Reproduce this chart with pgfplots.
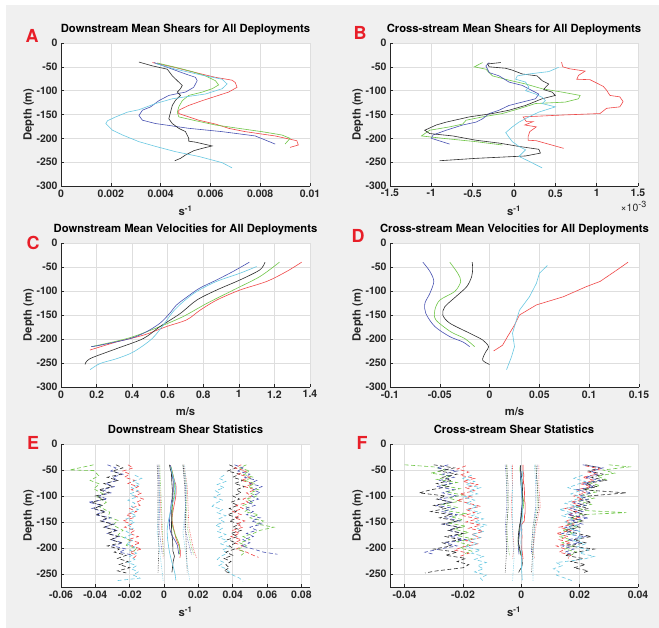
\documentclass[border=0pt]{standalone}
\usepackage{fontspec}
\setmainfont{TeX Gyre Heros}
\usepackage{pgfplots}
\pgfplotsset{compat=1.18}
\usepackage{pgfplotstable}
\definecolor{cr}{RGB}{240,72,72}
\definecolor{cg}{RGB}{112,198,72}
\definecolor{cb}{RGB}{72,82,178}
\definecolor{cc}{RGB}{104,200,226}
\definecolor{ck}{RGB}{45,45,45}
\definecolor{axc}{RGB}{38,38,38}
\definecolor{gridc}{RGB}{222,222,222}
\definecolor{bgc}{RGB}{240,240,240}
\definecolor{letc}{RGB}{232,30,40}
\newcommand\tickf{\fontsize{10.5}{12}\selectfont\bfseries}
\newcommand\titf{\fontsize{11.3}{13}\selectfont\bfseries}
\pgfplotsset{
 base/.style={scale only axis, width=249bp, height=143bp, axis lines=left,
  axis line style={-, draw=axc, line width=0.6bp},
  axis background/.style={fill=white},
  grid=major, grid style={draw=gridc, line width=0.5bp},
  major tick style={draw=axc, line width=0.5bp}, tick align=inside, major tick length=2.5bp,
  ticklabel style={font=\tickf, text=axc},
  title style={font=\titf, text=black, at={(0.5,1)}, anchor=base, yshift=5bp},
  ylabel={Depth (m)},
  ylabel style={font=\titf, text=axc, at={(axis description cs:-0.13,0.5)}, anchor=center},
  xlabel style={font=\titf, text=axc, at={(axis description cs:0.5,-0.17)}, anchor=center},
  clip mode=individual,
  every axis plot/.append style={line width=0.6bp},
  ymax=0},
 full/.style={ymin=-300, ytick={-300,-250,-200,-150,-100,-50,0},
  yticklabels={-300,-250,-200,-150,-100,-50,0}},
 stat/.style={ymin=-275, ytick={-250,-200,-150,-100,-50,0},
  yticklabels={-250,-200,-150,-100,-50,0}},
 dsh/.style={line width=0.6bp, dash pattern=on 4bp off 2.5bp},
 dtt/.style={line width=0.6bp, dash pattern=on 0.6bp off 1.1bp},
}
% Panel A data (units 1e-3 s^-1)
\pgfplotstableread{
x y
3.13 -40
3.67 -48
4.27 -55
4.47 -69
4.67 -79
4.87 -89
4.80 -96
4.67 -103
4.80 -110
4.60 -120
4.47 -131
4.40 -145
4.33 -159
4.47 -169
4.73 -179
5.00 -186
5.13 -200
5.13 -206
5.40 -208
6.07 -216
5.67 -221
5.33 -226
5.00 -235
4.80 -242
4.57 -247
}\Ak
\pgfplotstableread{
x y
3.73 -41
4.27 -51
5.00 -65
5.40 -72
5.47 -79
5.33 -93
5.00 -103
4.60 -107
4.33 -110
3.93 -121
3.60 -134
3.27 -141
3.13 -152
3.27 -162
3.80 -169
5.13 -179
6.47 -186
7.80 -195
8.60 -212
}\Ab
\pgfplotstableread{
x y
3.80 -43
4.60 -55
5.80 -69
6.47 -76
6.67 -86
6.47 -96
5.80 -107
5.13 -112
4.47 -117
3.80 -127
3.13 -140
2.67 -145
2.20 -155
1.87 -163
1.80 -169
2.07 -183
2.47 -193
3.13 -207
3.80 -217
4.60 -228
5.53 -238
6.47 -251
6.87 -262
}\Ac
\pgfplotstableread{
x y
3.87 -42
4.60 -51
5.27 -60
5.80 -69
6.20 -79
6.33 -88
6.07 -96
5.67 -103
5.13 -110
4.87 -121
4.73 -134
4.67 -145
4.73 -155
5.40 -163
6.20 -172
7.13 -179
8.07 -186
8.87 -193
9.20 -200
9.00 -212
}\Ag
\pgfplotstableread{
x y
3.67 -41
4.47 -50
5.40 -62
6.20 -72
6.87 -78
7.00 -83
7.07 -93
6.73 -103
6.20 -112
5.67 -121
5.13 -131
4.73 -141
4.73 -148
5.13 -155
5.53 -162
6.20 -170
6.73 -179
7.40 -186
8.60 -195
9.47 -205
9.53 -214
9.20 -219
}\Ar
% Panel B data (units 1e-3 s^-1)
\pgfplotstableread{
x y
0.575 -40
0.59 -50
0.67 -54
0.86 -59
0.78 -68
0.76 -76
0.92 -77
1.00 -84
1.08 -91
1.12 -99
1.16 -110
1.28 -113
1.32 -123
1.28 -134
1.12 -137
1.04 -148
0.60 -151
0.11 -155
0.15 -165
0.23 -165
0.13 -172
0.27 -176
0.19 -186
0.17 -197
0.17 -204
0.27 -205
0.60 -221
}\Br
\pgfplotstableread{
x y
-0.16 -41
-0.32 -44
-0.30 -50
-0.10 -53
-0.02 -57
0.10 -65
0.28 -69
0.34 -79
0.42 -86
0.38 -93
0.36 -98
0.46 -103
0.50 -110
0.34 -117
0.14 -131
-0.06 -141
-0.26 -148
-0.54 -155
-0.82 -166
-0.94 -172
-1.08 -183
-1.02 -190
-0.74 -195
-0.46 -204
-0.18 -210
0.06 -217
0.30 -223
0.32 -231
0.14 -237
-0.46 -242
-0.90 -247
}\Bk
\pgfplotstableread{
x y
-0.38 -41
-0.48 -50
-0.34 -55
-0.26 -69
-0.06 -78
0.14 -86
0.34 -96
0.58 -103
0.80 -110
0.78 -117
0.62 -124
0.26 -127
0.06 -138
-0.14 -148
-0.38 -155
-0.58 -162
-0.62 -170
-0.78 -176
-1.02 -183
-1.12 -195
-0.86 -200
-0.46 -207
-0.14 -214
}\Bg
\pgfplotstableread{
x y
-0.30 -41
-0.34 -48
-0.30 -62
-0.18 -69
-0.06 -82
0.10 -89
0.22 -100
0.30 -107
0.26 -117
0.10 -124
-0.06 -131
-0.18 -141
-0.30 -148
-0.38 -159
-0.46 -166
-0.62 -172
-0.82 -183
-0.98 -193
-1.00 -200
-0.78 -212
}\Bb
\pgfplotstableread{
x y
0.54 -51
0.42 -60
0.18 -65
0.04 -69
0.02 -76
0.14 -82
0.18 -93
0.14 -100
0.26 -107
0.34 -114
0.38 -121
0.34 -127
0.50 -134
0.30 -145
0.18 -155
0.06 -166
-0.02 -176
-0.10 -188
-0.06 -198
-0.02 -207
0.06 -217
0.14 -224
0.06 -238
0.18 -248
0.34 -262
}\Bc
\begin{document}
\begin{tikzpicture}
\useasboundingbox (0,0) rectangle (659bp,628bp);
\fill[white] (0,0) rectangle (659bp,628bp);
\fill[bgc] (6bp,0) rectangle (659bp,623bp);

% ---------- A ----------
\begin{axis}[base, full, at={(61bp,442bp)}, anchor=south west,
  title={Downstream Mean Shears for All Deployments},
  xmin=0, xmax=10, xtick={0,2,4,6,8,10},
  xticklabels={0,0.002,0.004,0.006,0.008,0.01},
  xlabel={s\textsuperscript{-1}}]
\addplot[cr] table {\Ar};
\addplot[cg] table {\Ag};
\addplot[cb] table {\Ab};
\addplot[ck] table {\Ak};
\addplot[cc] table {\Ac};
\end{axis}

% ---------- B ----------
\begin{axis}[base, full, at={(390bp,442bp)}, anchor=south west, width=248bp,
  title={Cross-stream Mean Shears for All Deployments},
  xmin=-1.5, xmax=1.5, xtick={-1.5,-1,-0.5,0,0.5,1,1.5},
  xticklabels={-1.5,-1,-0.5,0,0.5,1,1.5},
  xlabel={s\textsuperscript{-1}}]
\addplot[cr] table {\Br};
\addplot[cg] table {\Bg};
\addplot[cb] table {\Bb};
\addplot[ck] table {\Bk};
\addplot[cc] table {\Bc};
\node[anchor=north east, font=\fontsize{10.5}{12}\selectfont, text=axc, inner sep=0pt]
  at (rel axis cs:1,0) [xshift=9bp, yshift=-15bp] {×10\textsuperscript{\fontsize{9}{10}\selectfont -3}};
\end{axis}

% ---------- C ----------
\begin{axis}[base, full, at={(61bp,241bp)}, anchor=south west, height=144bp,
  title={Downstream Mean Velocities for All Deployments},
  xmin=0, xmax=1.4, xtick={0,0.2,0.4,0.6,0.8,1,1.2,1.4},
  xticklabels={0,0.2,0.4,0.6,0.8,1,1.2,1.4},
  xlabel={m/s}]
\addplot[cr, smooth] coordinates {(1.353,-40)(1.27,-59)(1.157,-80)(1.006,-98)(0.875,-119)(0.782,-140)(0.707,-160)(0.594,-174)(0.463,-192)(0.313,-206)(0.163,-223)};
\addplot[cg, smooth] coordinates {(1.228,-40)(1.118,-70)(0.969,-98)(0.819,-126)(0.688,-153)(0.557,-174)(0.407,-195)(0.295,-206)(0.17,-216)};
\addplot[cb, smooth] coordinates {(1.059,-40)(0.969,-59)(0.875,-77)(0.78,-94)(0.71,-112)(0.65,-129)(0.61,-147)(0.557,-167)(0.48,-185)(0.39,-199)(0.22,-213)(0.17,-216)};
\addplot[ck, smooth] coordinates {(1.147,-40)(1.118,-56)(1.006,-77)(0.875,-98)(0.763,-119)(0.67,-147)(0.557,-174)(0.463,-199)(0.313,-220)(0.163,-241)(0.135,-253)};
\addplot[cc, smooth] coordinates {(1.1,-49)(1.006,-63)(0.875,-80)(0.763,-101)(0.688,-122)(0.63,-143)(0.575,-171)(0.51,-200)(0.407,-227)(0.313,-241)(0.22,-251)(0.163,-264)};
\end{axis}

% ---------- D ----------
\begin{axis}[base, full, at={(390bp,241bp)}, anchor=south west, height=144bp,
  title={Cross-stream Mean Velocities for All Deployments},
  xmin=-0.1, xmax=0.15, xtick={-0.1,-0.05,0,0.05,0.1,0.15},
  xticklabels={-0.1,-0.05,0,0.05,0.1,0.15},
  xlabel={m/s}]
\addplot[cr] coordinates {(0.139,-40)(0.128,-56)(0.111,-80)(0.097,-91)(0.074,-112)(0.047,-129)(0.03,-150)(0.025,-171)(0.018,-195)(0.013,-213)(0.004,-225)};
\addplot[cg, smooth] coordinates {(-0.04,-40)(-0.032,-63)(-0.029,-80)(-0.035,-101)(-0.05,-119)(-0.055,-140)(-0.054,-160)(-0.039,-185)(-0.025,-199)(-0.015,-216)};
\addplot[cb, smooth] coordinates {(-0.067,-40)(-0.06,-59)(-0.056,-80)(-0.06,-105)(-0.065,-126)(-0.064,-147)(-0.055,-174)(-0.04,-195)(-0.027,-206)(-0.02,-216)};
\addplot[ck, smooth] coordinates {(-0.0175,-40)(-0.017,-52)(-0.018,-70)(-0.023,-91)(-0.034,-112)(-0.045,-133)(-0.047,-150)(-0.04,-167)(-0.02,-188)(-0.007,-202)(-0.001,-216)(-0.004,-227)(-0.007,-244)(0,-253)};
\addplot[cc] coordinates {(0.058,-47)(0.05,-63)(0.047,-84)(0.04,-112)(0.03,-140)(0.027,-160)(0.023,-188)(0.025,-216)(0.022,-237)(0.017,-264)};
\end{axis}

% ---------- E ----------
\begin{axis}[base, stat, at={(61bp,41bp)}, anchor=south west,
  title={Downstream Shear Statistics},
  xmin=-60, xmax=85, xtick={-60,-40,-20,0,20,40,60,80},
  xticklabels={-0.06,-0.04,-0.02,0,0.02,0.04,0.06,0.08},
  xlabel={s\textsuperscript{-1}}]
% left dashed
\addplot[cg, dsh] coordinates {(-41,-40)(-55,-50)(-41,-51)(-38,-61)(-43,-70)(-37.5,-77)(-41,-86)(-35.5,-96)(-39,-102)(-33.6,-112)(-37.5,-121)(-31.6,-131)(-32.6,-140)(-26.8,-147)(-29.7,-156)(-23.9,-166)(-26.8,-175)(-20,-185)(-22,-195)(-16,-201)(-19,-210)};
\addplot[cb, dsh] coordinates {(-33,-40)(-28,-46)(-31,-52)(-24,-58)(-30,-64)(-27,-70)(-34,-76)(-29,-82)(-36,-88)(-31,-94)(-38,-100)(-33,-106)(-44,-112)(-36,-118)(-42,-124)(-35,-130)(-40,-136)(-31,-142)(-37,-148)(-29,-154)(-35,-160)(-27,-166)(-33,-172)(-26,-178)(-31,-184)(-24,-190)(-30,-196)(-22,-202)(-26,-208)(-18,-214)};
\addplot[ck, dsh] coordinates {(-28,-40)(-24,-46)(-30,-52)(-25,-58)(-33,-64)(-27,-70)(-35,-76)(-30,-82)(-38,-88)(-32,-94)(-40,-100)(-35,-106)(-42,-112)(-36,-118)(-41,-124)(-34,-130)(-39,-136)(-33,-142)(-37,-148)(-30,-154)(-35,-160)(-28,-166)(-33,-172)(-27,-178)(-31,-184)(-25,-190)(-33,-196)(-26,-202)(-29,-208)(-22,-214)(-27,-220)(-21,-226)(-26,-232)(-20,-238)(-27,-244)(-22,-248)};
\addplot[cr, dsh] coordinates {(-21,-40)(-18,-46)(-24,-52)(-20,-58)(-23,-64)(-17,-70)(-21,-76)(-15,-82)(-19,-88)(-13,-94)(-17,-100)(-12,-106)(-16,-112)(-14,-118)(-20,-124)(-16,-130)(-22,-136)(-18,-142)(-24,-148)(-19,-154)(-23,-160)(-17,-166)(-20,-172)(-15,-178)(-21,-184)(-14,-190)(-19,-196)(-13,-202)(-20,-208)(-16,-214)(-18,-220)};
\addplot[cc, dsh] coordinates {(-17,-60)(-13,-66)(-18,-72)(-14,-78)(-19,-84)(-15,-90)(-20,-96)(-16,-102)(-21,-108)(-17,-114)(-19,-120)(-15,-126)(-20,-132)(-16,-138)(-22,-144)(-17,-150)(-21,-156)(-18,-162)(-22,-168)(-19,-174)(-23,-180)(-18,-186)(-22,-192)(-17,-198)(-20,-204)(-16,-210)(-20,-216)(-17,-222)(-21,-228)(-16,-234)(-19,-240)(-15,-246)(-18,-252)(-14,-258)(-28,-263)};
% right dashed
\addplot[cc, dsh] coordinates {(35,-60)(32,-66)(36,-72)(31,-78)(35,-84)(30,-90)(33,-96)(29,-102)(34,-108)(30,-114)(28,-120)(34,-126)(31,-132)(36,-138)(32,-144)(35,-150)(30,-156)(34,-162)(31,-168)(36,-174)(32,-180)(37,-186)(33,-192)(38,-198)(34,-204)(37,-210)(33,-216)(31,-222)(35,-228)(32,-234)(36,-240)(38,-246)(40,-252)(44,-258)(46,-264)};
\addplot[ck, dsh] coordinates {(38,-40)(42,-46)(37,-52)(44,-58)(40,-64)(46,-70)(41,-76)(47,-82)(42,-88)(45,-94)(40,-100)(44,-106)(39,-112)(43,-118)(38,-124)(42,-130)(37,-136)(43,-142)(38,-148)(44,-154)(40,-160)(45,-166)(39,-172)(43,-178)(37,-184)(42,-190)(38,-196)(41,-202)(36,-208)(40,-214)(35,-220)(39,-226)(36,-232)(38,-238)(35,-244)(38,-248)};
\addplot[cr, dsh] coordinates {(45,-40)(41,-46)(48,-52)(43,-58)(50,-64)(45,-70)(52,-76)(47,-82)(53,-88)(48,-94)(51,-100)(46,-106)(49,-112)(42,-118)(46,-124)(40,-130)(45,-136)(41,-142)(47,-148)(42,-154)(46,-160)(40,-166)(44,-172)(39,-178)(45,-184)(41,-190)(46,-196)(42,-202)(48,-208)(52,-214)(55,-218)};
\addplot[cg, dsh] coordinates {(48,-40)(44,-46)(50,-52)(46,-58)(52,-64)(47,-70)(53,-76)(49,-82)(55,-88)(50,-94)(54,-100)(48,-106)(52,-112)(46,-118)(50,-124)(47,-130)(55,-136)(50,-142)(58,-148)(54,-154)(64,-160)(56,-166)(52,-172)(46,-178)(50,-184)(44,-190)(48,-196)(43,-202)(47,-208)(45,-214)};
\addplot[cb, dsh] coordinates {(41,-40)(46,-46)(43,-52)(50,-58)(47,-64)(54,-70)(50,-76)(57,-82)(52,-88)(56,-94)(51,-100)(55,-106)(49,-112)(53,-118)(47,-124)(52,-130)(48,-136)(56,-142)(51,-148)(57,-154)(50,-160)(54,-166)(48,-172)(52,-178)(46,-184)(50,-190)(45,-196)(52,-202)(58,-208)(66,-212)};
% dotted
\addplot[cr, dtt] coordinates {(-3,-40)(-2.5,-80)(-2,-120)(-1.5,-160)(-0.5,-200)(-0.5,-220)};
\addplot[cg, dtt] coordinates {(-2.5,-40)(-2,-80)(-1.5,-120)(-1,-160)(-0.5,-200)(0,-214)};
\addplot[cb, dtt] coordinates {(-3.5,-40)(-3,-80)(-2.5,-120)(-3,-160)(-1.5,-200)(-1,-212)};
\addplot[ck, dtt] coordinates {(-4,-40)(-3.5,-80)(-3.5,-120)(-3.5,-160)(-3,-200)(-3.5,-248)};
\addplot[cc, dtt] coordinates {(-3,-40)(-2.5,-80)(-3,-120)(-4,-170)(-2,-220)(-0.5,-264)};
\addplot[cr, dtt] coordinates {(11.5,-40)(13.5,-80)(14,-120)(14.5,-160)(17,-200)(19,-220)};
\addplot[cg, dtt] coordinates {(11,-40)(13,-80)(13,-120)(13.5,-160)(16,-200)(17.5,-214)};
\addplot[cb, dtt] coordinates {(11,-40)(12.5,-80)(12.5,-120)(12,-160)(15,-200)(16,-212)};
\addplot[ck, dtt] coordinates {(11,-40)(12,-80)(12.5,-120)(12.5,-160)(13,-200)(13.5,-248)};
\addplot[cc, dtt] coordinates {(12,-40)(13,-80)(12.5,-120)(11,-170)(13,-220)(15,-264)};
% mean (solid)
\addplot[cr] table {\Ar};
\addplot[cg] table {\Ag};
\addplot[cb] table {\Ab};
\addplot[ck] table {\Ak};
\addplot[cc] table {\Ac};
\end{axis}

% ---------- F ----------
\begin{axis}[base, stat, at={(390bp,41bp)}, anchor=south west, width=248bp,
  title={Cross-stream Shear Statistics},
  xmin=-45, xmax=40, xtick={-40,-20,0,20,40},
  xticklabels={-0.04,-0.02,0,0.02,0.04},
  xlabel={s\textsuperscript{-1}}]
% left dashed
\addplot[cg, dsh] coordinates {(-40,-40)(-30,-44)(-26,-50)(-31,-56)(-24,-62)(-29,-68)(-22,-74)(-27,-80)(-21,-86)(-26,-92)(-20,-98)(-25,-104)(-21,-110)(-27,-116)(-22,-122)(-26,-128)(-19,-134)(-24,-140)(-20,-146)(-25,-152)(-19,-158)(-23,-164)(-18,-170)(-22,-176)(-17,-182)(-22,-188)(-18,-194)(-21,-200)(-17,-206)(-20,-212)};
\addplot[cb, dsh] coordinates {(-25,-40)(-29,-46)(-22,-52)(-27,-58)(-23,-64)(-28,-70)(-24,-76)(-29,-82)(-23,-88)(-27,-94)(-22,-100)(-28,-106)(-24,-112)(-29,-118)(-23,-124)(-27,-130)(-22,-136)(-26,-142)(-21,-148)(-27,-154)(-22,-160)(-25,-166)(-20,-172)(-24,-178)(-19,-184)(-26,-190)(-22,-196)(-28,-202)(-33,-208)(-30,-212)};
\addplot[ck, dsh] coordinates {(-30,-40)(-23,-46)(-28,-52)(-22,-58)(-27,-64)(-24,-70)(-29,-76)(-25,-82)(-31,-88)(-35,-94)(-26,-100)(-29,-106)(-24,-112)(-30,-118)(-26,-124)(-31,-130)(-24,-136)(-28,-142)(-22,-148)(-27,-154)(-21,-160)(-25,-166)(-20,-172)(-26,-178)(-21,-184)(-27,-190)(-24,-196)(-30,-202)(-22,-208)(-26,-214)(-19,-220)(-22,-226)(-18,-232)(-20,-238)(-29,-244)(-33,-248)};
\addplot[cr, dsh] coordinates {(-19,-42)(-22,-48)(-18,-54)(-21,-60)(-16,-66)(-20,-72)(-15,-78)(-19,-84)(-16,-90)(-21,-96)(-17,-102)(-22,-108)(-18,-114)(-14,-120)(-19,-126)(-16,-132)(-20,-138)(-15,-144)(-19,-150)(-14,-156)(-18,-162)(-13,-168)(-17,-174)(-14,-180)(-19,-186)(-15,-192)(-20,-198)(-23,-204)(-18,-210)(-21,-216)};
\addplot[cc, dsh] coordinates {(-17,-60)(-20,-66)(-16,-72)(-19,-78)(-14,-84)(-18,-90)(-15,-96)(-20,-102)(-16,-108)(-19,-114)(-15,-120)(-18,-126)(-14,-132)(-17,-138)(-13,-144)(-16,-150)(-12,-156)(-15,-162)(-13,-168)(-17,-174)(-14,-180)(-18,-186)(-15,-192)(-19,-198)(-14,-204)(-17,-210)(-13,-216)(-16,-222)(-12,-228)(-15,-234)(-13,-240)(-16,-246)(-12,-252)(-14,-258)(-13,-264)};
% right dashed
\addplot[cg, dsh] coordinates {(30,-40)(37,-44)(28,-50)(32,-56)(26,-62)(29,-68)(23,-74)(27,-80)(22,-86)(26,-92)(21,-98)(25,-104)(20,-110)(24,-116)(19,-122)(22,-128)(36,-132)(20,-136)(17,-142)(21,-148)(16,-154)(19,-160)(14,-166)(18,-172)(13,-178)(17,-184)(14,-190)(18,-196)(15,-202)(19,-208)(17,-214)};
\addplot[ck, dsh] coordinates {(22,-40)(27,-46)(23,-52)(28,-58)(24,-64)(29,-70)(22,-76)(26,-82)(21,-88)(36,-94)(23,-100)(20,-106)(24,-112)(19,-118)(23,-124)(18,-130)(22,-136)(17,-142)(21,-148)(16,-154)(20,-160)(15,-166)(19,-172)(24,-178)(18,-184)(22,-190)(16,-196)(25,-202)(19,-208)(15,-214)(21,-220)(17,-226)(22,-232)(18,-238)(23,-244)(21,-248)};
\addplot[cr, dsh] coordinates {(22,-42)(27,-48)(23,-54)(26,-58)(21,-64)(25,-70)(20,-76)(24,-82)(19,-88)(22,-94)(18,-100)(21,-106)(17,-112)(20,-118)(15,-124)(19,-130)(16,-136)(20,-142)(15,-148)(18,-154)(13,-160)(17,-166)(12,-172)(16,-178)(13,-184)(17,-190)(12,-196)(15,-202)(13,-208)(17,-214)(16,-220)};
\addplot[cb, dsh] coordinates {(21,-40)(28,-46)(24,-52)(26,-58)(22,-64)(27,-70)(21,-76)(25,-82)(19,-88)(24,-94)(20,-100)(23,-106)(18,-112)(22,-118)(17,-124)(21,-130)(16,-136)(23,-142)(17,-148)(21,-154)(15,-160)(19,-166)(14,-172)(22,-178)(16,-184)(20,-190)(14,-196)(18,-202)(15,-208)(17,-212)};
\addplot[cc, dsh] coordinates {(21,-60)(18,-66)(22,-72)(19,-78)(16,-84)(20,-90)(17,-96)(21,-102)(18,-108)(15,-114)(19,-120)(13,-126)(17,-132)(14,-138)(18,-144)(15,-150)(19,-156)(16,-162)(20,-168)(17,-174)(21,-180)(18,-186)(22,-192)(19,-198)(23,-204)(20,-210)(25,-216)(21,-222)(12,-228)(14,-234)(11,-240)(13,-246)(12,-252)(15,-258)(18,-264)};
% dotted
\addplot[cr, dtt] coordinates {(-3,-40)(-3,-80)(-3.5,-120)(-3,-160)(-2.5,-200)(-3,-220)};
\addplot[cg, dtt] coordinates {(-5,-40)(-5,-80)(-4.5,-120)(-5,-160)(-4.5,-200)(-4,-214)};
\addplot[cb, dtt] coordinates {(-5.5,-40)(-5,-80)(-5,-120)(-5.5,-160)(-5,-200)(-5,-212)};
\addplot[ck, dtt] coordinates {(-5,-40)(-4.5,-80)(-4.5,-120)(-5,-160)(-5,-200)(-5.5,-248)};
\addplot[cc, dtt] coordinates {(-3.5,-40)(-3,-80)(-3,-120)(-3,-170)(-2.5,-220)(-3,-264)};
\addplot[cr, dtt] coordinates {(6,-40)(6,-80)(6.5,-120)(5,-160)(4,-200)(4.5,-220)};
\addplot[cg, dtt] coordinates {(5,-40)(5.5,-80)(5.5,-120)(4,-160)(3.5,-200)(4,-214)};
\addplot[cb, dtt] coordinates {(5.5,-40)(5,-80)(5,-120)(4,-160)(3.5,-200)(3.5,-212)};
\addplot[ck, dtt] coordinates {(5,-40)(5.5,-80)(6,-120)(4.5,-160)(4,-200)(3.5,-248)};
\addplot[cc, dtt] coordinates {(4.5,-40)(5,-80)(5,-120)(4.5,-170)(4,-220)(4,-264)};
% mean (solid)
\addplot[cr] table {\Br};
\addplot[cg] table {\Bg};
\addplot[cb] table {\Bb};
\addplot[ck] table {\Bk};
\addplot[cc] table {\Bc};
\end{axis}

% panel letters
\begin{scope}[every node/.style={font=\fontsize{18}{20}\selectfont\bfseries, text=letc}]
\node at (32bp,592bp) {A};
\node at (360bp,595bp) {B};
\node at (33bp,385bp) {C};
\node at (358bp,392bp) {D};
\node at (33bp,185bp) {E};
\node at (362bp,185bp) {F};
\end{scope}
\end{tikzpicture}
\end{document}
